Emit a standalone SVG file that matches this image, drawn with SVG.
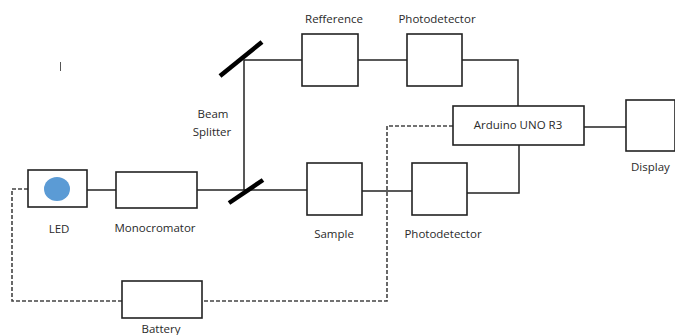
<svg xmlns="http://www.w3.org/2000/svg" width="675" height="335" viewBox="0 0 675 335">
<style>
.box{fill:#fff;stroke:#222;stroke-width:1.6}
.ln{fill:none;stroke:#222;stroke-width:1.5}
.dash{fill:none;stroke:#444;stroke-width:1.6;stroke-dasharray:4 2}
.sp{stroke:#000;stroke-width:4.5;stroke-linecap:butt}
text{font-family:"Open Sans","Liberation Sans",sans-serif;font-size:11.5px;fill:#2a2a2a}
</style>
<rect width="675" height="335" fill="#fff"/>
<g id="connectors">
<polyline class="ln" points="87,190 116,190"/>
<polyline class="ln" points="197,190 244,190"/>
<polyline class="ln" points="244,190 244,60 302,60"/>
<polyline class="ln" points="358,60 407,60"/>
<polyline class="ln" points="462,60 518,60 518,106"/>
<polyline class="ln" points="244,190 307,190"/>
<polyline class="ln" points="362,191 412,191"/>
<polyline class="ln" points="467,193 519,193 519,145"/>
<polyline class="ln" points="584,127 626,127"/>
<polyline class="dash" points="453,126 387,126 387,301 202,301"/>
<polyline class="dash" points="122,301 12,301 12,189 28,189"/>
</g>
<g id="led"><rect class="box" x="28" y="170" width="59" height="37"/><ellipse cx="57" cy="189" rx="13" ry="12" fill="#5B9BD5"/><text x="59" y="233" text-anchor="middle">LED</text></g>
<g id="monocromator"><rect class="box" x="116" y="172" width="81" height="36"/><text x="155" y="232" text-anchor="middle">Monocromator</text></g>
<g id="splitter1"><line class="sp" x1="220" y1="76" x2="262" y2="42"/></g>
<g id="splitter2"><line class="sp" x1="229" y1="203" x2="263" y2="180"/><text x="213" y="118" text-anchor="middle">Beam</text><text x="212" y="136" text-anchor="middle">Splitter</text></g>
<g id="refference"><rect class="box" x="302" y="34" width="56" height="52"/><text x="334" y="23" text-anchor="middle">Refference</text></g>
<g id="photodetector1"><rect class="box" x="407" y="34" width="55" height="52"/><text x="437" y="23" text-anchor="middle">Photodetector</text></g>
<g id="arduino"><rect class="box" x="453" y="106" width="131" height="39"/><text x="518" y="129" text-anchor="middle">Arduino UNO R3</text></g>
<g id="display"><rect class="box" x="626" y="100" width="49" height="51"/><text x="631" y="171">Display</text></g>
<g id="sample"><rect class="box" x="307" y="163" width="55" height="52"/><text x="334" y="238" text-anchor="middle">Sample</text></g>
<g id="photodetector2"><rect class="box" x="412" y="163" width="55" height="52"/><text x="443" y="238" text-anchor="middle">Photodetector</text></g>
<g id="battery"><rect class="box" x="122" y="281" width="80" height="37"/><text x="161" y="333" text-anchor="middle">Battery</text></g>
<line x1="60.5" y1="62" x2="60.5" y2="71" stroke="#555" stroke-width="1"/>
</svg>
